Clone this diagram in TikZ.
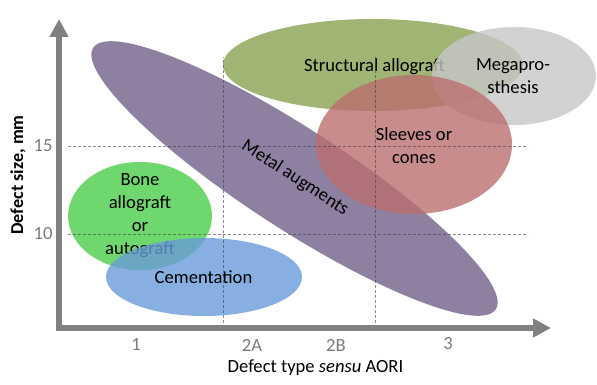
\documentclass[tikz,border=0pt]{standalone}
\usepackage{fontspec}
\setmainfont{Carlito}
\usetikzlibrary{arrows.meta}
\definecolor{cpurple}{RGB}{114,96,136}
\definecolor{cstruct}{RGB}{136,161,80}
\definecolor{cmega}{RGB}{199,199,199}
\definecolor{csleeve}{RGB}{186,111,111}
\definecolor{cbone}{RGB}{74,205,74}
\definecolor{ccement}{RGB}{105,155,217}
\definecolor{caxis}{RGB}{128,128,128}
\definecolor{ctick}{RGB}{122,122,128}
\tikzset{
  blob/.style={fill=#1, fill opacity=0.8, draw=none},
  lbl/.style={font=\fontsize{18.6}{23}\selectfont, align=center, text=black, inner sep=0pt},
  ticklbl/.style={font=\fontsize{18.6}{22}\selectfont, text=ctick, inner sep=0pt},
  axisline/.style={draw=caxis, line width=5.5pt, -{Triangle[length=18pt,width=18pt]}},
  gridline/.style={draw=black!75, line width=0.8pt, dash pattern=on 3pt off 2pt, opacity=0.6}
}
\begin{document}
\begin{tikzpicture}[x=1pt,y=1pt]
\useasboundingbox (0,0) rectangle (597,385);
% ellipses with labels
\fill[blob=cpurple, rotate around={-33:(294.5,206.5)}] (294.5,206.5) ellipse [x radius=240, y radius=50];
\node[lbl, rotate=-33] (metal) at (295,207) {Metal augments};
\fill[blob=cbone] (140,169) ellipse [x radius=72, y radius=54];
\node[lbl] (bone) at (140,169) {Bone\\allograft\\or\\autograft};
\fill[blob=ccement] (204,108) ellipse [x radius=98, y radius=39];
\node[lbl] (cement) at (203.5,108) {Cementation};
\fill[blob=cstruct] (373,320) ellipse [x radius=150, y radius=46];
\node[lbl] (struct) at (374.5,318) {Structural allograft};
\fill[blob=cmega] (514,309) ellipse [x radius=82, y radius=49];
\node[lbl] (mega) at (513,309) {Megapro-\\sthesis};
\fill[blob=csleeve] (414,240.5) ellipse [x radius=98, y radius=69.5];
\node[lbl] (sleeve) at (414,239) {Sleeves or\\cones};
% grid
\coordinate (g1a) at (223,62); \coordinate (g1b) at (223,328);
\coordinate (g2a) at (375,62); \coordinate (g2b) at (375,328);
\coordinate (h1a) at (68,239); \coordinate (h1b) at (528,239);
\coordinate (h2a) at (68,151); \coordinate (h2b) at (528,151);
\draw[gridline] (g1a) -- (g1b);
\draw[gridline] (g2a) -- (g2b);
\draw[gridline] (h1a) -- (h1b);
\draw[gridline] (h2a) -- (h2b);
% axes
\coordinate (ytip) at (59,366);
\coordinate (xtip) at (551,57);
\coordinate (ystart) at (59,54.25);
\coordinate (xstart) at (56.25,57);
\draw[axisline] (ystart) -- (ytip);
\draw[axisline] (xstart) -- (xtip);
% ticks
\node[ticklbl] (t15) at (43,239) {15};
\node[ticklbl] (t10) at (43,151) {10};
\node[ticklbl] (x1) at (136,40) {1};
\node[ticklbl] (x2a) at (252,40) {2A};
\node[ticklbl] (x2b) at (336,40) {2B};
\node[ticklbl] (x3) at (448,41) {3};
% titles
\node[lbl] (xtitle) at (315.5,17) {Defect type \textit{sensu} AORI};
\node[lbl, font=\fontsize{18.2}{23}\selectfont\bfseries, rotate=90] (ytitle) at (18,210) {Defect size, mm};
\end{tikzpicture}
\end{document}
